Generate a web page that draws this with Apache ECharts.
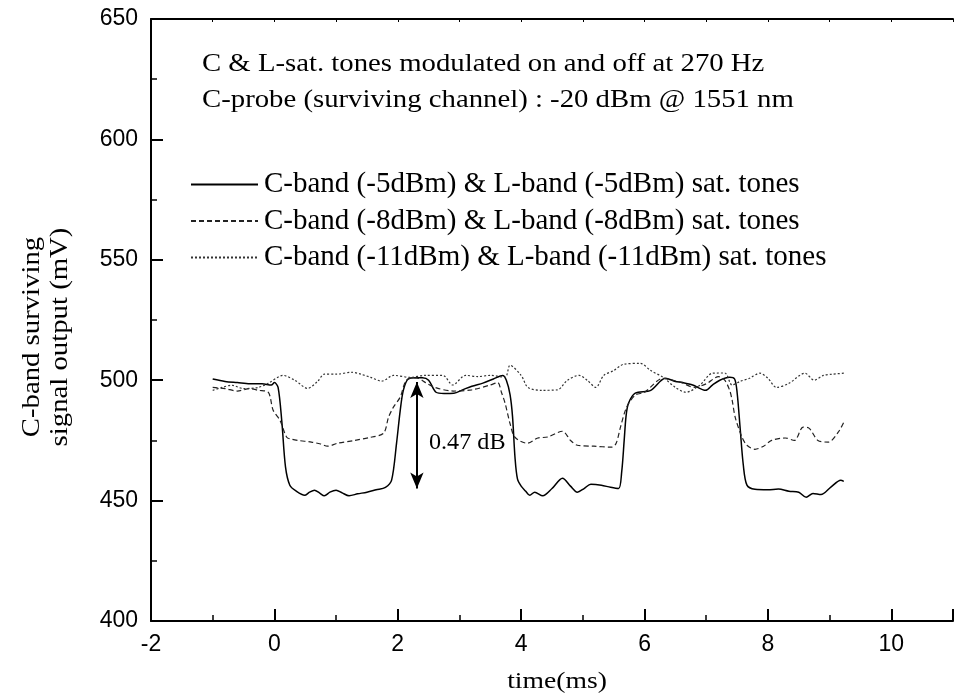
<!DOCTYPE html>
<html>
<head>
<meta charset="utf-8">
<script src="https://cdn.jsdelivr.net/npm/echarts@6/dist/echarts.min.js"></script>
<style>
  html, body { margin: 0; padding: 0; background: #fff; }
  #main { width: 956px; height: 699px; }
</style>
</head>
<body>
<div id="main"></div>
<script>
  // series names
  var names = [
    'C-band (-5dBm) & L-band (-5dBm) sat. tones',
    'C-band (-8dBm) & L-band (-8dBm) sat. tones',
    'C-band (-11dBm) & L-band (-11dBm) sat. tones'
  ]

  // [time (ms), output (mV)]
  var tones5 = [
    [-1.0, 500.5], [-0.8, 499.5], [-0.6, 499], [-0.4, 498.5], [-0.2, 498.5], [-0.05, 498], [0.0, 499],
    [0.06, 497], [0.12, 483], [0.18, 464], [0.25, 456.4], [0.35, 454], [0.49, 452.2], [0.57, 453.5],
    [0.65, 454.3], [0.73, 453.2], [0.81, 452], [0.9, 453.5], [1.0, 454.3], [1.1, 453.2], [1.21, 452],
    [1.35, 452.8], [1.5, 453.5], [1.65, 454.5], [1.8, 455.5], [1.9, 458.5], [1.98, 473.8], [2.04, 487.5],
    [2.09, 495.8], [2.17, 500.5], [2.3, 501], [2.4, 501], [2.5, 500], [2.62, 495], [2.75, 494.5],
    [2.91, 494.6], [3.05, 496], [3.2, 497.5], [3.38, 498.8], [3.55, 500.5], [3.7, 502], [3.76, 500],
    [3.82, 494], [3.86, 485], [3.9, 468], [3.94, 459], [4.0, 456], [4.07, 454], [4.14, 452.2], [4.22, 453.5],
    [4.35, 452], [4.5, 455], [4.67, 459.3], [4.8, 456], [4.91, 453.5], [5.02, 455], [5.13, 456.8],
    [5.3, 456.4], [5.45, 455.5], [5.58, 455], [5.63, 462], [5.67, 475], [5.7, 485], [5.74, 490.4],
    [5.85, 494.6], [6.1, 495.8], [6.34, 500.8], [6.5, 499.5], [6.62, 499], [6.78, 498], [6.99, 495.8],
    [7.1, 498], [7.22, 500], [7.38, 501.2], [7.46, 500.5], [7.5, 495], [7.55, 480], [7.6, 465],
    [7.66, 456.4], [7.79, 454.7], [8.0, 454.5], [8.17, 454.8], [8.34, 453.9], [8.5, 453.5], [8.62, 451.4],
    [8.73, 453], [8.86, 452.5], [9.02, 455.6], [9.18, 458.5], [9.23, 458]
  ]

  var tones8 = [
    [-1.0, 497], [-0.8, 496.5], [-0.6, 495.5], [-0.4, 496.5], [-0.26, 495.8], [-0.1, 495], [-0.02, 487.5],
    [0.09, 483.4], [0.2, 476.3], [0.28, 475.5], [0.38, 475], [0.6, 474.3], [0.75, 473.5], [0.86, 472.6],
    [1.02, 473.8], [1.3, 475], [1.56, 476.3], [1.77, 478], [1.85, 484.6], [1.93, 488.8], [2.04, 493],
    [2.14, 500], [2.3, 501], [2.45, 499], [2.6, 497], [2.9, 495.5], [3.2, 496], [3.5, 498], [3.62, 499],
    [3.68, 495], [3.74, 490.4], [3.82, 482], [3.9, 476.3], [4.1, 473.8], [4.27, 476], [4.43, 476.4],
    [4.67, 478.8], [4.8, 475], [4.91, 473], [5.18, 472.6], [5.47, 472.2], [5.54, 473.8], [5.61, 480.5],
    [5.71, 488.8], [5.85, 493.8], [6.0, 495], [6.3, 500.8], [6.45, 500], [6.6, 499], [6.8, 497],
    [7.0, 498.5], [7.2, 501.5], [7.3, 500], [7.38, 495.8], [7.42, 491.7], [7.47, 484.6], [7.58, 476.3],
    [7.66, 473], [7.79, 471.3], [7.93, 472.6], [8.06, 475], [8.28, 476], [8.43, 475], [8.57, 480.5],
    [8.67, 480], [8.81, 475], [8.98, 474.3], [9.14, 478.4], [9.23, 482.6]
  ]

  var tones11 = [
    [-1.0, 495.8], [-0.85, 497], [-0.69, 497.9], [-0.5, 496.5], [-0.26, 497], [-0.1, 498.7], [0.14, 502],
    [0.33, 500], [0.54, 496.6], [0.7, 499.5], [0.81, 502.5], [1.0, 502.5], [1.26, 503.3], [1.4, 502.5],
    [1.56, 501.2], [1.74, 499.6], [1.93, 502], [2.2, 501.2], [2.45, 502], [2.73, 502], [2.89, 498],
    [3.1, 502], [3.3, 501.5], [3.5, 502], [3.74, 501.2], [3.82, 506.2], [4.0, 502], [4.11, 497],
    [4.33, 495.8], [4.59, 496], [4.75, 500], [4.94, 502], [5.07, 500], [5.21, 497], [5.34, 502],
    [5.5, 504], [5.66, 506.6], [5.93, 507], [6.1, 504], [6.3, 501.2], [6.5, 497], [6.67, 495], [6.9, 498],
    [7.1, 502.9], [7.3, 503], [7.42, 498], [7.55, 499.5], [7.7, 500.8], [7.87, 502.9], [8.0, 500.8],
    [8.14, 497], [8.34, 498.7], [8.6, 502.9], [8.75, 500], [8.9, 502], [9.05, 502.5], [9.23, 502.9]
  ]

  // the 0.47 dB double arrow, data coords
  var arrowTime = 2.31
  var arrowEnds = [499.3, 455]

  var serif = 'Liberation Serif'
  var sans = 'Liberation Sans'
  // the serif texts in the picture are a little wider than plain Times
  var stretch = 1.15

  function label (text, x, y, size, extra) {
    return Object.assign({
      type: 'text',
      x: x,
      y: y,
      scaleX: stretch,
      style: { text: text, font: size + 'px "' + serif + '"', fill: '#000', verticalAlign: 'middle' }
    }, extra || {})
  }

  var chart = echarts.init(document.getElementById('main'))
  var option = {
    animation: false,
    backgroundColor: '#fff',
    grid: { left: 151, top: 19, width: 813, height: 602 },
    legend: {
      data: names,
      orient: 'vertical',
      left: 190,
      top: 170,
      padding: 0,
      itemWidth: 67,
      itemHeight: 14,
      itemGap: 7.5,
      itemStyle: { opacity: 0 },
      textStyle: { fontFamily: serif, fontSize: 29, color: '#000', padding: [0, 0, 0, 1] }
    },
    xAxis: [
      {
        type: 'value',
        min: -2,
        max: 11,
        interval: 2,
        axisLine: { onZero: false, lineStyle: { color: '#000', width: 2 } },
        axisTick: { inside: true, length: 12, lineStyle: { color: '#000', width: 2 } },
        minorTick: { show: true, splitNumber: 2, length: 6, lineStyle: { color: '#000', width: 1.5 } },
        splitLine: { show: false },
        axisLabel: {
          color: '#000', fontFamily: sans, fontSize: 23, margin: 12,
          formatter: function (v) { return v > 10 ? '' : String(v) }
        }
      },
      {
        type: 'value',
        position: 'top',
        min: -2,
        max: 11,
        interval: 1,
        axisLine: { onZero: false, lineStyle: { color: '#000', width: 2 } },
        axisTick: { inside: true, length: 3, lineStyle: { color: '#000', width: 1 } },
        splitLine: { show: false },
        axisLabel: { show: false }
      }
    ],
    yAxis: {
      type: 'value',
      min: 400,
      max: 650,
      interval: 50,
      axisLine: { onZero: false, lineStyle: { color: '#000', width: 2 } },
      axisTick: { inside: true, length: 12, lineStyle: { color: '#000', width: 2 } },
      minorTick: { show: true, splitNumber: 2, length: 6, lineStyle: { color: '#000', width: 1.5 } },
      splitLine: { show: false },
      axisLabel: { color: '#000', fontFamily: sans, fontSize: 23, margin: 13 }
    },
    graphic: [
      label('C & L-sat. tones modulated on and off at 270 Hz', 202, 64, 25),
      label('C-probe (surviving channel) : -20 dBm @ 1551 nm', 202, 100, 25),
      label('0.47 dB', 429, 443, 23, { scaleX: 1.05 }),
      label('time(ms)', 557, 682, 24, { style: { text: 'time(ms)', font: '24px "' + serif + '"', fill: '#000', align: 'center', verticalAlign: 'middle' } }),
      label('C-band surviving', 32, 337, 25, { rotation: Math.PI / 2, style: { text: 'C-band surviving', font: '25px "' + serif + '"', fill: '#000', align: 'center', verticalAlign: 'middle' } }),
      label('signal output (mV)', 60, 337, 25, { rotation: Math.PI / 2, style: { text: 'signal output (mV)', font: '25px "' + serif + '"', fill: '#000', align: 'center', verticalAlign: 'middle' } })
    ],
    series: [
      {
        name: names[0],
        type: 'line',
        data: tones5,
        symbol: 'none',
        smooth: 0.3,
        lineStyle: { color: '#000', width: 1.5, type: 'solid' },
        itemStyle: { color: '#000' },
        markLine: {
          silent: true,
          symbol: ['arrow', 'arrow'],
          symbolSize: [10, 16],
          label: { show: false },
          lineStyle: { color: '#000', width: 2, type: 'solid' },
          data: [[{ coord: [arrowTime, arrowEnds[0]] }, { coord: [arrowTime, arrowEnds[1]] }]]
        }
      },
      {
        name: names[1],
        type: 'line',
        data: tones8,
        symbol: 'none',
        smooth: 0.3,
        lineStyle: { color: '#222', width: 1.2, type: [5, 3] },
        itemStyle: { color: '#222' }
      },
      {
        name: names[2],
        type: 'line',
        data: tones11,
        symbol: 'none',
        smooth: 0.3,
        lineStyle: { color: '#333', width: 1.2, type: [2, 2] },
        itemStyle: { color: '#333' }
      }
    ]
  }
  chart.setOption(option)
  window.addEventListener('resize', function () {
    chart.resize()
  })
</script>
</body>
</html>
